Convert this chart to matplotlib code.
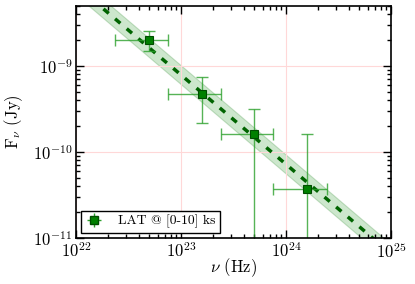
import numpy as np
import matplotlib
matplotlib.use("Agg")
import matplotlib.pyplot as plt

plt.rcParams['font.family'] = 'cmr10'
plt.rcParams['mathtext.fontset'] = 'cm'
plt.rcParams['axes.formatter.use_mathtext'] = True

# LAT spectral points, 0-10 ks
nu = [5.0e22, 1.57e23, 5.0e23, 1.58e24]
nu_lo = [2.36e22, 7.5e22, 2.4e23, 7.6e23]
nu_hi = [7.6e22, 2.39e23, 7.6e23, 2.44e24]
flux = [2.04e-9, 4.8e-10, 1.64e-10, 3.68e-11]
flux_lo = [1.5e-9, 2.16e-10, 1e-12, 1e-12]
flux_hi = [2.56e-9, 7.4e-10, 3.2e-10, 1.64e-10]

# power-law fit: F = 10**norm * nu**index, band +-0.11 dex
fit_norm = 14.818
fit_index = -1.04
fit_width = 0.11

fig = plt.figure(figsize=(4.15, 2.84), dpi=100)
ax = fig.add_axes([76/415, 1-238/284, 315/415, 232/284])

xx = np.logspace(21.5, 25.5, 200)
yy = 10**fit_norm * xx**fit_index
ax.fill_between(xx, yy/10**fit_width, yy*10**fit_width, color='#3aa03a', alpha=0.25,
                lw=0.8, edgecolor='#2e8b2e')
ax.plot(xx, yy, color='#006400', lw=2.5, dashes=(2.0, 2.4))

xerr = [np.array(nu) - np.array(nu_lo), np.array(nu_hi) - np.array(nu)]
yerr = [np.array(flux) - np.array(flux_lo), np.array(flux_hi) - np.array(flux)]
ax.errorbar(nu, flux, xerr=xerr, yerr=yerr, fmt='none', ecolor='#2ca02c', alpha=0.8,
            elinewidth=1, capsize=4, capthick=1)
ax.plot(nu, flux, 's', color='green', mec='#004d00', ms=6, mew=0.8, ls='none')
h = ax.errorbar([], [], xerr=[], yerr=[], fmt='s', color='green', mec='#004d00', ms=6,
                ecolor='#2ca02c', elinewidth=1, capsize=3)

ax.set_xscale('log')
ax.set_yscale('log')
ax.set_xlim(1e22, 1e25)
ax.set_ylim(1e-11, 10**-8.3)
ax.grid(True, which='major', color='#ffd8d8', lw=0.8)
ax.tick_params(which='both', direction='in', top=True, right=True, labelsize=12)
ax.tick_params(which='major', length=6, width=1, pad=2.5)
ax.tick_params(which='minor', length=3, width=1)
for s in ax.spines.values():
    s.set_linewidth(1.2)

ax.set_xlabel(r'$\nu$ (Hz)', fontsize=12, va='center')
ax.xaxis.set_label_coords(0.5, -30/232)
ax.set_ylabel(r'F$_\nu$ (Jy)', fontsize=12, va='center')
ax.yaxis.set_label_coords(-62/315, 0.5)

leg = ax.legend([h], ['LAT @ [0-10] ks'], loc='lower left', fontsize=9.8,
                fancybox=False, edgecolor='black', framealpha=1, borderaxespad=0.4,
                borderpad=0.3, handlelength=1.2, handletextpad=1.2)
leg.get_frame().set_linewidth(1)

fig.savefig('out.png', dpi=100)
